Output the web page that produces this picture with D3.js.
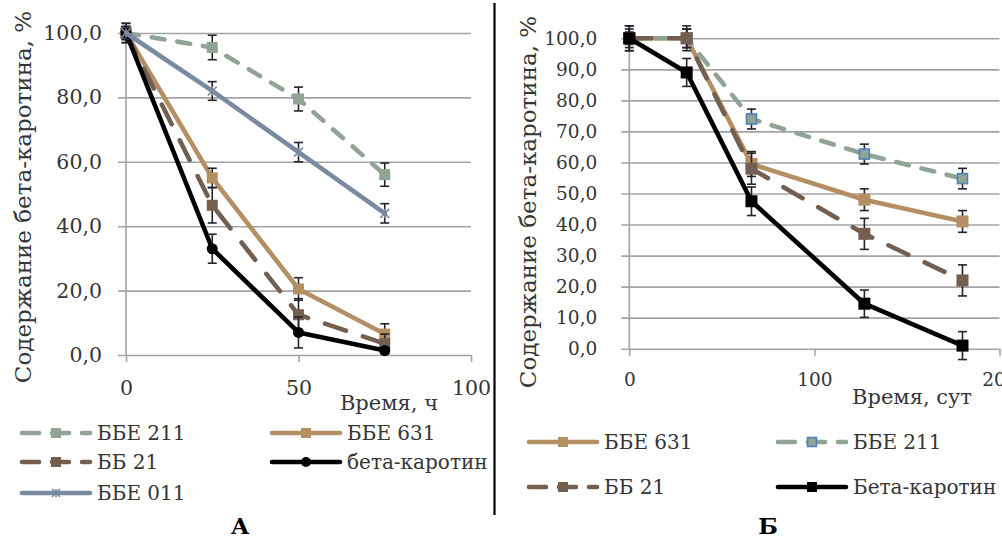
<!DOCTYPE html>
<html>
<head>
<meta charset="utf-8">
<script src="https://cdn.jsdelivr.net/npm/d3@7"></script>
<style>
  body { margin: 0; background: #fff; }
  svg { display: block; font-family: "DejaVu Serif", serif; }
</style>
</head>
<body>
<div id="svg-container"></div>
<script>
////////////////////////////  Data  ////////////////////////////
// panel А: время, ч
const timeA = [0, 25, 50, 75];
const bbe211A = [100, 95.5, 79.5, 56];
const bbe211AErr = [2, 3.8, 3.7, 3.6];
const bbe631A = [100, 55, 20.5, 6.5];
const bbe631AErr = [2, 3, 3.5, 3.2];
const bb21A = [100, 46.5, 12.5, 3.5];
const bb21AErr = [3, 5.5, 5, 3];
const betaA = [100, 33, 7, 1.4];
const betaAErr = [3, 4.5, 4.8, 1];
const bbe011A = [100, 82, 63, 44];
const bbe011AErr = [2, 2.9, 3, 3];

// panel Б: время, сут
const timeB = [0, 31, 66, 127, 180];
const bbe631B = [100, 100, 59.5, 48, 41];
const bbe631BErr = [2, 3, 4, 3.5, 3.5];
const bbe211B = [100, 100, 74, 62.7, 54.8];
const bbe211BErr = [3, 3, 3.2, 3.2, 3.3];
const bb21B = [100, 100, 58, 37, 22];
const bb21BErr = [4, 4, 5, 5, 5];
const betaB = [100, 89, 47.5, 14.5, 1];
const betaBErr = [4, 4.5, 4.6, 4.4, 4.5];

const yTicksA = [0, 20, 40, 60, 80, 100];
const xTicksA = [0, 50, 100];
const yTicksB = [0, 10, 20, 30, 40, 50, 60, 70, 80, 90, 100];
const xTicksB = [0, 100, 200];

////////////////////////////  Styles  ////////////////////////////
const styles = {
  "ББЕ 211": { color: "#91a394", dash: "13,13", marker: "square" },
  "ББЕ 631": { color: "#b48f63", dash: null, marker: "square" },
  "ББ 21": { color: "#725f50", dash: "22,18", marker: "square" },
  "бета-каротин": { color: "#000", dash: null, marker: "circle" },
  "Бета-каротин": { color: "#000", dash: null, marker: "square" },
  "ББЕ 011": { color: "#7a8aa1", dash: null, marker: "star" },
};
const gridColor = "#a3a3a3";
const textColor = "#353535";
const errColor = "#23232f";

const width = 1002;
const height = 539;
const svg = d3.select("#svg-container").append("svg")
  .attr("width", width).attr("height", height);

const fmt = d3.formatLocale({ decimal: ",", thousands: " ", grouping: [3], currency: ["", ""] }).format(".1f");

function series(name, t, v, e) {
  return { name, points: t.map((d, i) => ({ t: d, v: v[i], e: e[i] })) };
}

const panelA = {
  left: 126, right: 471, top: 33, bottom: 355,
  xDomain: [0, 100], yTicks: yTicksA, xTicks: xTicksA,
  tickFont: 20.5, yPad: 24, xPad: 18, markerSize: 11,
  yLabelX: 23, yLabelY: 197,
  xTitle: "Время, ч", xTitleX: 389, xTitleY: 410,
  series: [
    series("ББЕ 211", timeA, bbe211A, bbe211AErr),
    series("ББЕ 631", timeA, bbe631A, bbe631AErr),
    series("ББ 21", timeA, bb21A, bb21AErr),
    series("бета-каротин", timeA, betaA, betaAErr),
    series("ББЕ 011", timeA, bbe011A, bbe011AErr),
  ],
  legend: [[20, 433], [270, 433], [20, 462], [270, 462], [20, 493]],
  legendLen: 72,
  letter: "А", letterX: 240,
};

const panelB = {
  left: 629.3, right: 999.5, top: 38.3, bottom: 348.7,
  xDomain: [0, 200], yTicks: yTicksB, xTicks: xTicksB,
  tickFont: 18.5, yPad: 32, xPad: 17, markerSize: 12,
  yLabelX: 528, yLabelY: 202,
  xTitle: "Время, сут", xTitleX: 912, xTitleY: 404,
  series: [
    series("ББЕ 631", timeB, bbe631B, bbe631BErr),
    series("ББЕ 211", timeB, bbe211B, bbe211BErr),
    series("ББ 21", timeB, bb21B, bb21BErr),
    series("Бета-каротин", timeB, betaB, betaBErr),
  ],
  legend: [[527, 442], [776, 442], [527, 487], [776, 487]],
  legendLen: 72,
  letter: "Б", letterX: 768,
  blueEdge: "ББЕ 211",
};

function drawMarker(g, kind, cx, cy, size, color, edge) {
  if (kind === "square") {
    g.append("rect")
      .attr("x", cx - size / 2).attr("y", cy - size / 2)
      .attr("width", size).attr("height", size)
      .attr("fill", color)
      .attr("stroke", edge || "none").attr("stroke-width", edge ? 1.6 : 0);
  } else if (kind === "circle") {
    g.append("circle").attr("cx", cx).attr("cy", cy).attr("r", size / 2)
      .attr("fill", color);
  } else if (kind === "star") {
    const r = size / 2 - 1;
    const p = `M${cx - r},${cy - r}L${cx + r},${cy + r}M${cx - r},${cy + r}L${cx + r},${cy - r}M${cx},${cy - r}L${cx},${cy + r}`;
    g.append("path").attr("d", p).attr("stroke", color).attr("stroke-width", 1.6).attr("fill", "none");
  }
}

function drawPanel(p) {
  const x = d3.scaleLinear().domain(p.xDomain).range([p.left, p.right]);
  const y = d3.scaleLinear().domain([0, 100]).range([p.bottom, p.top]);
  const g = svg.append("g");

  // horizontal grid + y labels
  g.append("g")
    .attr("transform", `translate(${p.left},0)`)
    .call(d3.axisLeft(y).tickValues(p.yTicks).tickSize(-(p.right - p.left)).tickPadding(p.yPad).tickFormat(fmt))
    .call((a) => a.select(".domain").remove())
    .call((a) => a.selectAll(".tick line").attr("x1", -8).attr("stroke", gridColor).attr("stroke-width", 1.6))
    .call((a) => a.selectAll(".tick text").attr("fill", textColor)
      .attr("font-size", p.tickFont).attr("font-family", "DejaVu Serif"));

  // x ticks
  g.append("g")
    .attr("transform", `translate(0,${p.bottom})`)
    .call(d3.axisBottom(x).tickValues(p.xTicks).tickSize(7).tickPadding(p.xPad).tickFormat(d3.format("d")))
    .call((a) => a.select(".domain").remove())
    .call((a) => a.selectAll(".tick line").attr("stroke", gridColor).attr("stroke-width", 1.6))
    .call((a) => a.selectAll(".tick text").attr("fill", textColor)
      .attr("font-size", p.tickFont).attr("font-family", "DejaVu Serif"));

  // y axis line
  g.append("line")
    .attr("x1", x(0)).attr("x2", x(0))
    .attr("y1", p.top).attr("y2", p.bottom)
    .attr("stroke", gridColor).attr("stroke-width", 1.6);

  // axis titles
  g.append("text")
    .attr("transform", `translate(${p.yLabelX},${p.yLabelY}) rotate(-90)`)
    .attr("text-anchor", "middle").attr("dy", "0.35em")
    .attr("font-size", 23).attr("fill", textColor)
    .text("Содержание бета-каротина, %");

  g.append("text")
    .attr("x", p.xTitleX).attr("y", p.xTitleY)
    .attr("text-anchor", "middle")
    .attr("font-size", 21).attr("fill", textColor)
    .text(p.xTitle);

  const line = d3.line().x((d) => x(d.t)).y((d) => y(d.v));

  p.series.forEach((s) => {
    const st = styles[s.name];
    const sg = g.append("g");
    sg.append("path")
      .datum(s.points)
      .attr("d", line)
      .attr("fill", "none")
      .attr("stroke", st.color)
      .attr("stroke-width", 4.6)
      .attr("stroke-linejoin", "round")
      .attr("stroke-linecap", "round")
      .attr("stroke-dasharray", st.dash);

    // error bars
    const eb = sg.selectAll(".err").data(s.points).enter().append("g");
    eb.append("line")
      .attr("x1", (d) => x(d.t)).attr("x2", (d) => x(d.t))
      .attr("y1", (d) => y(d.v + d.e)).attr("y2", (d) => y(d.v - d.e))
      .attr("stroke", errColor).attr("stroke-width", 1.6);
    eb.append("line")
      .attr("x1", (d) => x(d.t) - 4.5).attr("x2", (d) => x(d.t) + 4.5)
      .attr("y1", (d) => y(d.v + d.e)).attr("y2", (d) => y(d.v + d.e))
      .attr("stroke", errColor).attr("stroke-width", 1.6);
    eb.append("line")
      .attr("x1", (d) => x(d.t) - 4.5).attr("x2", (d) => x(d.t) + 4.5)
      .attr("y1", (d) => y(d.v - d.e)).attr("y2", (d) => y(d.v - d.e))
      .attr("stroke", errColor).attr("stroke-width", 1.6);

    const edge = p.blueEdge === s.name ? "#4f81bd" : null;
    const msize = edge ? p.markerSize - 2 : p.markerSize;
    s.points.forEach((d) => {
      drawMarker(sg, st.marker, x(d.t), y(d.v), msize, st.color, edge);
    });
  });

  // legend
  p.series.forEach((s, i) => {
    const st = styles[s.name];
    const [lx, ly] = p.legend[i];
    const lg = g.append("g");
    lg.append("line")
      .attr("x1", lx + 2).attr("x2", lx + p.legendLen - 2)
      .attr("y1", ly).attr("y2", ly)
      .attr("stroke", st.color).attr("stroke-width", 4.6)
      .attr("stroke-linecap", "round")
      .attr("stroke-dasharray", st.dash ? "17,13" : null);
    const edge = p.blueEdge === s.name ? "#4f81bd" : null;
    drawMarker(lg, st.marker, lx + p.legendLen / 2, ly, edge ? 9 : 10, st.color, edge);
    lg.append("text")
      .attr("x", lx + p.legendLen + 5).attr("y", ly).attr("dy", "0.35em")
      .attr("font-size", 20).attr("fill", textColor)
      .text(s.name);
  });

  svg.append("text")
    .attr("x", p.letterX).attr("y", 534)
    .attr("text-anchor", "middle")
    .attr("font-size", 23).attr("font-weight", "bold").attr("fill", "#000")
    .text(p.letter);
}

drawPanel(panelA);
drawPanel(panelB);

// divider between panels
svg.append("line")
  .attr("x1", 494.5).attr("x2", 494.5).attr("y1", 3).attr("y2", 515)
  .attr("stroke", "#000").attr("stroke-width", 2.2);
</script>
</body>
</html>
